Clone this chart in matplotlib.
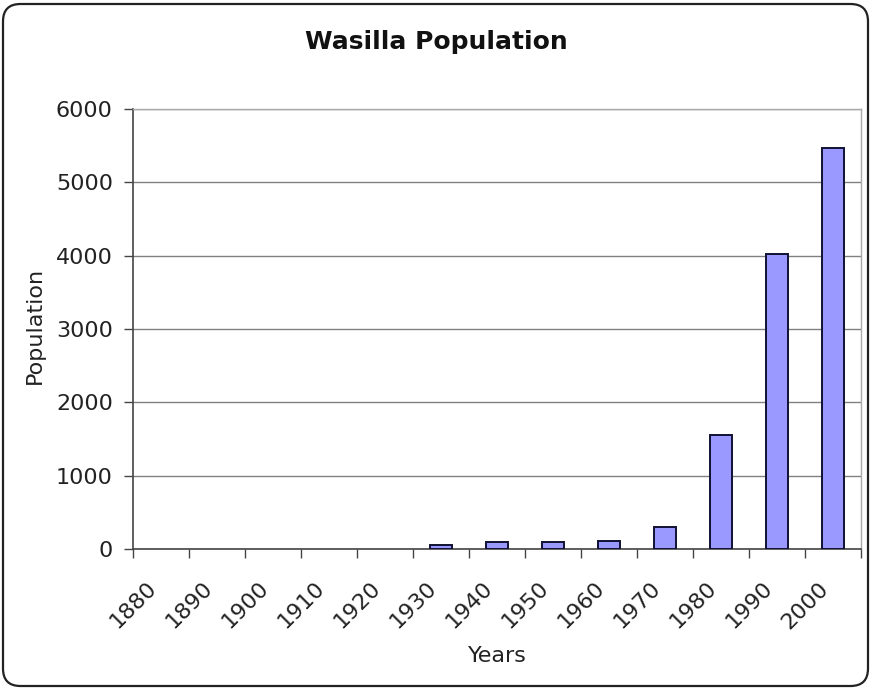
import numpy as np
import matplotlib

matplotlib.use("Agg")
import matplotlib.pyplot as plt
from matplotlib.patches import FancyBboxPatch
from matplotlib.transforms import ScaledTranslation

plt.rcParams["font.family"] = ["DejaVu Sans"]

years = ["1880", "1890", "1900", "1910", "1920", "1930", "1940",
         "1950", "1960", "1970", "1980", "1990", "2000"]
population = [0, 0, 0, 0, 0, 50, 96, 97, 112, 300, 1559, 4028, 5469]
y_ticks = [0, 1000, 2000, 3000, 4000, 5000, 6000]

BAR = "#9999ff"
GRID = "#808080"
TEXT = "#222222"

fig = plt.figure(figsize=(8.73, 6.90), dpi=100)
fig.patch.set_facecolor("white")

# rounded chart-area border
W, H = 873, 690
fig.add_artist(FancyBboxPatch(
    (3 / W, 4 / H), 865 / W, 682 / H,
    boxstyle="round,pad=0,rounding_size=0.02",
    transform=fig.transFigure, facecolor="none",
    edgecolor="#222222", linewidth=1.6, mutation_aspect=W / H,
))

ax = fig.add_axes([133 / W, 1 - 549 / H, (861 - 133) / W, (549 - 109) / H])

x = np.arange(len(years))
heights = np.array(population, dtype=float)
heights[heights == 0] = np.nan
ax.bar(x, heights, width=0.4, color=BAR, edgecolor="#111133", linewidth=1.4, zorder=3)

ax.set_xlim(-0.5, len(years) - 0.5)
ax.set_ylim(0, 6000)

ax.set_yticks(y_ticks)
ax.set_yticklabels([str(v) for v in y_ticks], fontsize=16, color=TEXT)
ax.yaxis.grid(True, color=GRID, linewidth=1.0, zorder=0)

# ticks between categories, labels under each category
ax.set_xticks(np.arange(len(years) + 1) - 0.5)
ax.set_xticklabels([])
ax.set_xticks(x, minor=True)
ax.set_xticklabels(years, minor=True, rotation=45, ha="right",
                   va="center", rotation_mode="anchor", fontsize=16, color=TEXT)
ax.tick_params(axis="x", which="minor", length=0, pad=26)
ax.tick_params(axis="both", which="major", length=6.5, width=1.0, color="#444444")
ax.tick_params(axis="y", which="major", pad=8)
shift = ScaledTranslation(-8 / 100, 0, fig.dpi_scale_trans)
for lbl in ax.get_xticklabels(minor=True):
    lbl.set_transform(lbl.get_transform() + shift)

for side in ("left", "bottom"):
    ax.spines[side].set_color("#444444")
    ax.spines[side].set_linewidth(1.2)
for side in ("top", "right"):
    ax.spines[side].set_color("#aaaaaa")
    ax.spines[side].set_linewidth(1.0)

ax.set_ylabel("Population", fontsize=16, color=TEXT)
ax.yaxis.set_label_coords((45 - 133) / 728, (549 - 325) / 440)
ax.set_xlabel("Years", fontsize=16, color=TEXT)
ax.xaxis.set_label_coords(0.5, -(646 - 549) / 440)

fig.text(0.5, 1 - 42 / H, "Wasilla Population", ha="center", va="center",
         fontsize=18, fontweight="bold", color="#111111")

fig.savefig("out.png", dpi=100)
